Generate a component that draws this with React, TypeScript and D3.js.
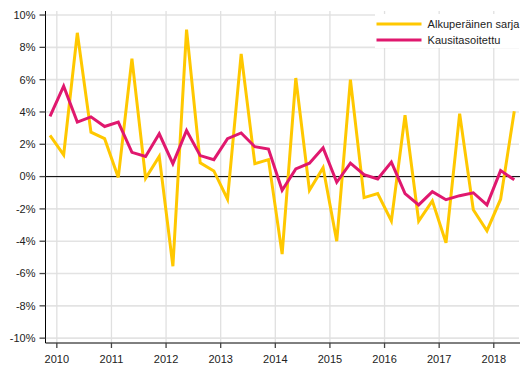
import React from "react";
import * as d3 from "d3";

const years = ["2010", "2011", "2012", "2013", "2014", "2015", "2016", "2017", "2018"];
const yTicks = [-10, -8, -6, -4, -2, 0, 2, 4, 6, 8, 10];
const seriesNames = ["Alkuperäinen sarja", "Kausitasoitettu"];
const original = [
  2.55, 1.35, 8.9, 2.75, 2.35, -0.05, 7.3, -0.1, 1.25, -5.55, 9.1, 0.85, 0.35, -1.4,
  7.6, 0.8, 1.05, -4.8, 6.1, -0.85, 0.55, -4.0, 6.0, -1.3, -1.05, -2.75, 3.8, -2.75,
  -1.5, -4.1, 3.9, -2.05, -3.35, -1.4, 4.05,
];
const seasonal = [
  3.73, 5.6, 3.37, 3.7, 3.1, 3.37, 1.5, 1.25, 2.65, 0.8, 2.85, 1.3, 1.05, 2.35,
  2.7, 1.85, 1.7, -0.85, 0.48, 0.83, 1.78, -0.35, 0.83, 0.12, -0.15, 0.9, -1.05, -1.75,
  -0.93, -1.43, -1.18, -1.0, -1.75, 0.37, -0.2,
];
const colors = ["#ffc800", "#e0186e"];

export default function App() {
  const W = 529, H = 378;
  const left = 45.5, right = 520, top = 11, bottom = 343;
  const x = d3.scaleLinear().domain([-0.33, 34.42]).range([left, right]);
  const y = d3.scaleLinear().domain([-10.3, 10.25]).range([bottom, top]);
  const line = d3.line<number>().x((_, i) => x(i)).y((d) => y(d));
  const font = "Arial, 'Liberation Sans', sans-serif";
  const yearPos = years.map((_, i) => i * 4 + 0.5);
  return (
    <svg width={W} height={H} style={{ position: "absolute", left: 0, top: 0 }} fontFamily={font}>
      <rect width={W} height={H} fill="#fff" />
      {yTicks.map((t) => (
        <line key={"hg" + t} x1={left} x2={right - 1} y1={y(t)} y2={y(t)} stroke="#e3e3e3" strokeWidth={1.6} />
      ))}
      {yearPos.map((p, i) => (
        <line key={"vg" + i} x1={x(p)} x2={x(p)} y1={top} y2={bottom} stroke="#e0e0e0" strokeWidth={1.3} />
      ))}
      <line x1={left} x2={right} y1={y(0)} y2={y(0)} stroke="#000" strokeWidth={1} />
      <line x1={left} x2={left} y1={top} y2={bottom} stroke="#000" strokeWidth={1} />
      <line x1={left} x2={right} y1={bottom} y2={bottom} stroke="#000" strokeWidth={1} />
      {yTicks.map((t) => (
        <g key={"yt" + t}>
          <line x1={39.5} x2={left} y1={y(t)} y2={y(t)} stroke="#444" strokeWidth={1.3} />
          <text x={35.5} y={y(t)} dy="0.35em" textAnchor="end" fontSize={11} fill="#222">
            {t + "%"}
          </text>
        </g>
      ))}
      {yearPos.map((p, i) => (
        <g key={"xt" + i}>
          <line x1={x(p)} x2={x(p)} y1={bottom} y2={bottom + 5} stroke="#444" strokeWidth={1.3} />
          <text x={x(p)} y={363} textAnchor="middle" fontSize={11} fill="#222">
            {years[i]}
          </text>
        </g>
      ))}
      <path d={line(original) || ""} fill="none" stroke={colors[0]} strokeWidth={3} strokeLinejoin="miter" />
      <path d={line(seasonal) || ""} fill="none" stroke={colors[1]} strokeWidth={3} strokeLinejoin="miter" />
      <rect x={375} y={14} width={144} height={34} fill="#fff" />
      {seriesNames.map((n, i) => (
        <g key={n}>
          <line x1={376.5} x2={421.5} y1={24 + i * 16} y2={24 + i * 16} stroke={colors[i]} strokeWidth={3} />
          <text x={427.5} y={24 + i * 16} dy="0.35em" fontSize={11} fill="#222" letterSpacing={0.05}>
            {n}
          </text>
        </g>
      ))}
    </svg>
  );
}
